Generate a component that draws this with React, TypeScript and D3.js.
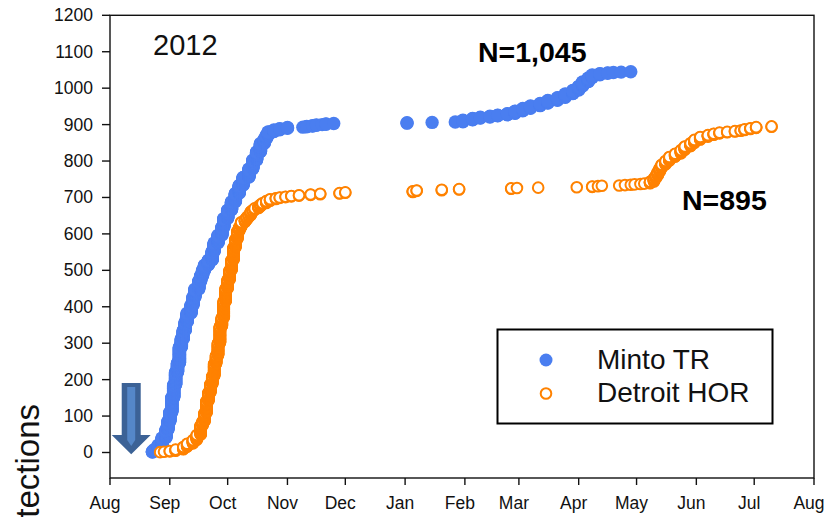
import React from "react";
import * as d3 from "d3";

// Cumulative detections of tagged fish at two sites, 2012–2013 season.
// Each series is stored as detection dates with the number of detections logged
// on that date; every detection is drawn as one marker at its cumulative rank.
const seasonLabel = "2012";
const seriesNames = ["Minto TR", "Detroit HOR"];
const totalLabels = ["N=1,045", "N=895"];

const mintoDates = [
  "2012-08-23", "2012-08-24", "2012-08-26", "2012-08-28", "2012-08-30", "2012-08-31",
  "2012-09-01", "2012-09-02", "2012-09-03", "2012-09-04", "2012-09-05", "2012-09-06",
  "2012-09-07", "2012-09-08", "2012-09-09", "2012-09-10", "2012-09-12", "2012-09-13",
  "2012-09-14", "2012-09-16", "2012-09-17", "2012-09-18", "2012-09-19", "2012-09-21",
  "2012-09-23", "2012-09-24", "2012-09-26", "2012-09-28", "2012-09-29", "2012-10-01",
  "2012-10-03", "2012-10-05", "2012-10-07", "2012-10-09", "2012-10-12", "2012-10-14",
  "2012-10-16", "2012-10-18", "2012-10-20", "2012-10-21", "2012-10-22", "2012-10-25",
  "2012-10-28", "2012-11-01", "2012-11-09", "2012-11-11", "2012-11-14", "2012-11-16",
  "2012-11-19", "2012-11-21", "2012-11-25", "2013-01-02", "2013-01-15", "2013-01-27",
  "2013-01-31", "2013-02-05", "2013-02-09", "2013-02-14", "2013-02-18", "2013-02-23",
  "2013-02-27", "2013-03-03", "2013-03-07", "2013-03-12", "2013-03-16", "2013-03-21",
  "2013-03-25", "2013-03-29", "2013-04-01", "2013-04-03", "2013-04-06", "2013-04-08",
  "2013-04-12", "2013-04-16", "2013-04-19", "2013-04-23", "2013-04-28",
];
const mintoDaily = [
  3, 5, 12, 20, 22, 23,
  25, 40, 35, 35, 25, 44,
  23, 23, 23, 24, 22, 22,
  22, 22, 15, 15, 14, 14,
  24, 23, 21, 22, 24, 23,
  23, 23, 22, 22, 23, 24,
  23, 23, 12, 10, 10, 5,
  4, 3, 1, 2, 2, 2,
  1, 2, 1, 2, 1, 1,
  5, 5, 3, 3, 3, 4,
  7, 7, 7, 7, 8, 8,
  10, 10, 11, 12, 11, 8,
  4, 2, 1, 1, 1,
];

const detroitDates = [
  "2012-08-27", "2012-08-29", "2012-09-01", "2012-09-04", "2012-09-08", "2012-09-10",
  "2012-09-13", "2012-09-15", "2012-09-17", "2012-09-18", "2012-09-19", "2012-09-20",
  "2012-09-21", "2012-09-22", "2012-09-23", "2012-09-24", "2012-09-25", "2012-09-26",
  "2012-09-27", "2012-09-28", "2012-09-29", "2012-09-30", "2012-10-01", "2012-10-02",
  "2012-10-03", "2012-10-04", "2012-10-05", "2012-10-06", "2012-10-07", "2012-10-08",
  "2012-10-10", "2012-10-11", "2012-10-12", "2012-10-13", "2012-10-14", "2012-10-15",
  "2012-10-17", "2012-10-18", "2012-10-19", "2012-10-21", "2012-10-23", "2012-10-26",
  "2012-10-28", "2012-10-31", "2012-11-03", "2012-11-07", "2012-11-13", "2012-11-18",
  "2012-11-28", "2012-12-01", "2013-01-05", "2013-01-07", "2013-01-20", "2013-01-29",
  "2013-02-25", "2013-02-28", "2013-03-11", "2013-03-31", "2013-04-08", "2013-04-11",
  "2013-04-13", "2013-04-22", "2013-04-25", "2013-04-28", "2013-04-30", "2013-05-03",
  "2013-05-05", "2013-05-08", "2013-05-10", "2013-05-11", "2013-05-12", "2013-05-13",
  "2013-05-14", "2013-05-16", "2013-05-18", "2013-05-21", "2013-05-24", "2013-05-26",
  "2013-05-29", "2013-05-31", "2013-06-03", "2013-06-07", "2013-06-10", "2013-06-13",
  "2013-06-17", "2013-06-21", "2013-06-24", "2013-06-26", "2013-06-29", "2013-07-02",
  "2013-07-10",
];
const detroitDaily = [
  1, 1, 2, 4, 7, 9,
  10, 14, 26, 11, 23, 33,
  23, 23, 22, 34, 23, 34,
  46, 24, 45, 35, 24, 26,
  28, 34, 23, 22, 11, 14,
  7, 7, 5, 10, 4, 5,
  5, 5, 4, 6, 5, 3,
  2, 2, 2, 2, 2, 2,
  2, 2, 3, 2, 2, 2,
  2, 1, 1, 1, 2, 1,
  1, 1, 1, 1, 1, 1,
  1, 5, 9, 8, 10, 10,
  10, 10, 11, 9, 10, 10,
  9, 9, 8, 5, 4, 3,
  2, 2, 2, 3, 3, 3,
  2,
];

const yTicks = [0, 100, 200, 300, 400, 500, 600, 700, 800, 900, 1000, 1100, 1200];
const xTickDates = [
  "2012-08-01", "2012-09-01", "2012-10-01", "2012-11-01", "2012-12-01", "2013-01-01",
  "2013-02-01", "2013-03-01", "2013-04-01", "2013-05-01", "2013-06-01", "2013-07-01",
  "2013-08-01",
];
const releaseDate = "2012-08-12";
const axisTitle = "Cumulative Detections";

const W = 826;
const H = 517;
const FONT = "'Liberation Sans', Arial, Helvetica, sans-serif";
const BLUE = "#4a7ef0";
const ORANGE = "#ff8200";

const parse = d3.timeParse("%Y-%m-%d");
const fmtMonth = d3.timeFormat("%b");

// one record per detection: its date and its running total
function expand(dates: string[], daily: number[]) {
  const totals = Array.from(d3.cumsum(daily));
  const out: { date: Date; n: number }[] = [];
  dates.forEach((s, i) => {
    const date = parse(s)!;
    const start = i === 0 ? 0 : totals[i - 1];
    for (let n = start + 1; n <= totals[i]; n++) out.push({ date, n });
  });
  return out;
}

export default function App() {
  const x = d3
    .scaleTime()
    .domain([parse("2012-08-01")!, parse("2013-08-01")!])
    .range([110, 814]);
  const y = d3.scaleLinear().domain([-70, 1200]).range([478, 15.3]);

  const minto = expand(mintoDates, mintoDaily);
  const detroit = expand(detroitDates, detroitDaily);

  const [x0, x1] = x.range();
  const [yb, yt] = y.range();

  // release arrow, pointing down at the zero line
  const ax = x(parse(releaseDate)!);
  const tipY = y(-5);
  const outer = [
    [ax - 9.5, 383], [ax + 9.5, 383], [ax + 9.5, 435], [ax + 19.5, 435],
    [ax, tipY], [ax - 19.5, 435], [ax - 9.5, 435],
  ];
  const inner = [
    [ax - 4, 387], [ax + 4, 387], [ax + 4, 440], [ax, 446], [ax - 4, 440],
  ];
  const pts = (p: number[][]) => p.map((q) => q.join(",")).join(" ");

  return (
    <div style={{ position: "fixed", left: 0, top: 0, width: W, height: H, background: "#fff" }}>
      <svg width={W} height={H} style={{ display: "block", fontFamily: FONT }}>
        <rect x={0} y={0} width={W} height={H} fill="#fff" />

        {/* detections */}
        <g>
          {minto.map((p, i) => (
            <circle key={"m" + i} cx={x(p.date)} cy={y(p.n)} r={6.7} fill={BLUE} />
          ))}
        </g>
        <g>
          {detroit.map((p, i) => (
            <circle
              key={"d" + i}
              cx={x(p.date)}
              cy={y(p.n)}
              r={5.3}
              fill="#fff"
              stroke={ORANGE}
              strokeWidth={2}
            />
          ))}
        </g>

        {/* frame */}
        <rect
          x={x0}
          y={yt}
          width={x1 - x0}
          height={yb - yt}
          fill="none"
          stroke="#111"
          strokeWidth={1.4}
        />

        {/* y axis */}
        {yTicks.map((t) => (
          <g key={"y" + t}>
            <line x1={x0 - 8} x2={x0} y1={y(t)} y2={y(t)} stroke="#111" strokeWidth={1.4} />
            <text x={x0 - 17} y={y(t) + 6} textAnchor="end" fontSize={17.5} fill="#111">
              {t}
            </text>
          </g>
        ))}

        {/* x axis */}
        {xTickDates.map((s) => {
          const px = x(parse(s)!);
          return (
            <g key={"x" + s}>
              <line x1={px} x2={px} y1={yb} y2={yb + 7} stroke="#111" strokeWidth={1.4} />
              <text x={px - 5} y={508.5} textAnchor="middle" fontSize={17.5} fill="#111">
                {fmtMonth(parse(s)!)}
              </text>
            </g>
          );
        })}

        {/* axis title */}
        <text
          transform="translate(39,404) rotate(-90)"
          textAnchor="end"
          fontSize={33}
          fill="#111"
        >
          {axisTitle}
        </text>

        {/* annotations */}
        <text x={153} y={55} fontSize={29} fill="#111">
          {seasonLabel}
        </text>
        <text x={478} y={62} fontSize={28.5} fontWeight="bold" fill="#000">
          {totalLabels[0]}
        </text>
        <text x={682} y={210} fontSize={28.5} fontWeight="bold" fill="#000">
          {totalLabels[1]}
        </text>

        {/* release arrow */}
        <polygon points={pts(outer)} fill="#3c6296" />
        <polygon points={pts(inner)} fill="#5587c8" />

        {/* legend */}
        <g>
          <rect x={497.5} y={329.5} width={275} height={94} fill="#fff" stroke="#000" strokeWidth={2} />
          <circle cx={546} cy={360} r={6.5} fill={BLUE} />
          <circle cx={546} cy={393.5} r={5.3} fill="#fff" stroke={ORANGE} strokeWidth={2} />
          <text x={597} y={368.5} fontSize={28} fill="#111">
            {seriesNames[0]}
          </text>
          <text x={597} y={402} fontSize={28} fill="#111">
            {seriesNames[1]}
          </text>
        </g>
      </svg>
    </div>
  );
}
